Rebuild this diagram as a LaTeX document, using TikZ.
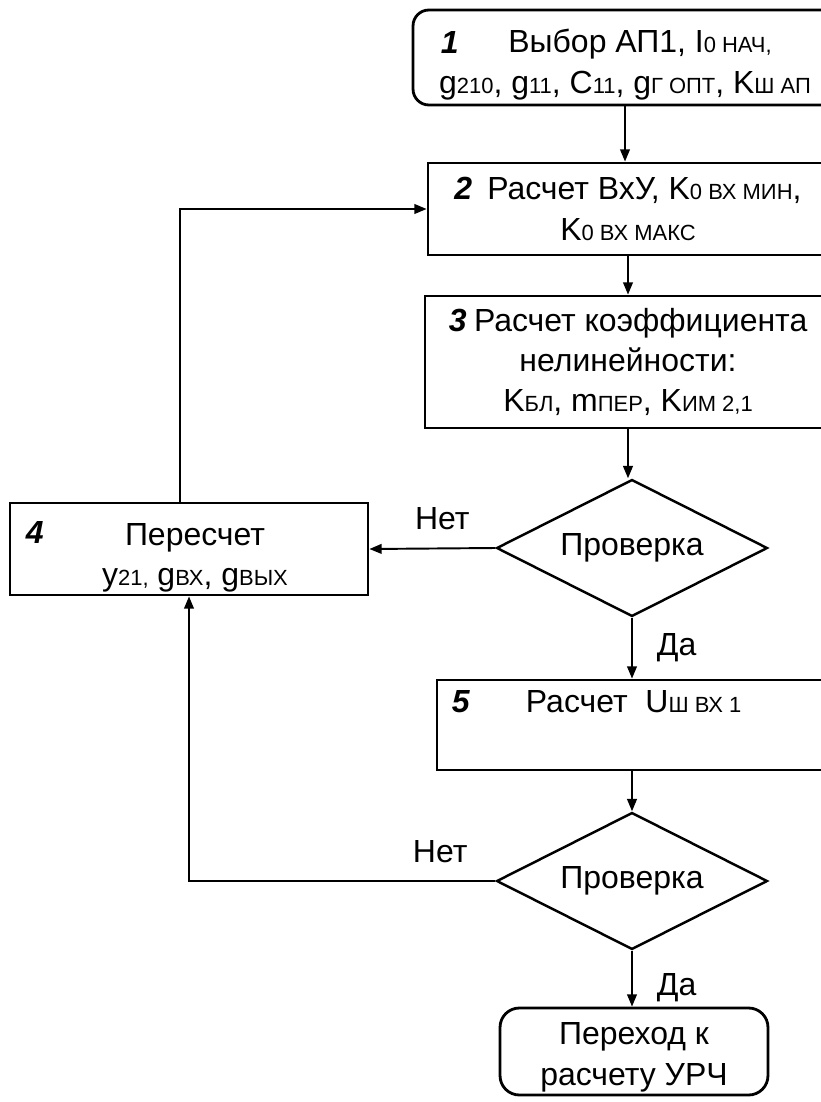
\documentclass[tikz,border=0pt]{standalone}
\usepackage{fontspec}
\setmainfont{Liberation Sans}
\usetikzlibrary{shapes.geometric, arrows.meta, positioning}
\newcommand{\sbs}[1]{{\fontsize{12.5}{14}\selectfont #1}}
\newcommand{\stepnum}[1]{\textbf{\textit{#1}}}

\begin{document}
\begin{tikzpicture}[x = 0.02cm, y = -0.02cm, font = \fontsize{18.2}{23}\selectfont]
\tikzstyle{BoxStyle} = [draw, line width = 1.6pt, inner sep = 0pt, align = center]
\tikzstyle{RoundStyle} = [BoxStyle, rounded corners = 9pt]
\tikzstyle{CheckStyle} = [draw, diamond, aspect = 2, line width = 1.4pt, minimum width = 5.42cm, minimum height = 2.74cm, inner sep = 0pt]
\tikzstyle{EdgeStyle} = [line width = 1.1pt, -{Triangle[length = 7pt, width = 5.5pt]}]
\tikzstyle{tagStyle} = [inner sep = 0pt]
\useasboundingbox (0,0) rectangle (821,1102);
\clip (0,0) rectangle (821,1102);
% blocks
\node[RoundStyle, minimum width = 8.48cm, minimum height = 1.9cm] (b1) at (625,57.5) {};
\node[tagStyle, align = center] (t1) at ([yshift = -0.14cm]b1.center) {\hspace*{0.6cm}Выбор АП1, I\sbs{0 НАЧ,}\\ g\sbs{210}, g\sbs{11}, C\sbs{11}, g\sbs{Г ОПТ}, K\sbs{Ш АП}};
\node[tagStyle, anchor = base west] (n1) at ([xshift = 0.58cm, yshift = -0.9cm]b1.north west) {\stepnum{1}};
\node[BoxStyle, minimum width = 8.0cm, minimum height = 1.84cm] (b2) at (628,209) {\stepnum{2}\hspace{0.3cm}Расчет ВхУ, K\sbs{0 ВХ МИН},\\ K\sbs{0 ВХ МАКС}};
\node[BoxStyle, minimum width = 8.12cm, minimum height = 2.64cm] (b3) at (628,362) {\stepnum{3}\hspace{0.15cm}Расчет коэффициента\\ нелинейности:\\ K\sbs{БЛ}, m\sbs{ПЕР}, K\sbs{ИМ 2,1}};
\node[CheckStyle] (d1) at (632,548) {Проверка};
\node[BoxStyle, minimum width = 7.16cm, minimum height = 1.84cm] (b4) at (189,549) {};
\node[tagStyle, align = center] (t4) at ([xshift = 0.12cm, yshift = -0.18cm]b4.center) {Пересчет\\ y\sbs{21,} g\sbs{ВХ}, g\sbs{ВЫХ}};
\node[tagStyle, anchor = base west] (n4) at ([xshift = 0.34cm, yshift = -0.84cm]b4.north west) {\stepnum{4}};
\node[BoxStyle, minimum width = 7.96cm, minimum height = 1.8cm] (b5) at (636,725) {};
\node[tagStyle, anchor = base west] (n5) at ([xshift = 0.32cm, yshift = -0.68cm]b5.north west) {\stepnum{5}};
\node[tagStyle, anchor = base west] (t5) at ([xshift = 1.8cm, yshift = -0.68cm]b5.north west) {Расчет\ \ U\sbs{Ш ВХ 1}};
\node[CheckStyle] (d2) at (632,881) {Проверка};
\node[RoundStyle, minimum width = 5.36cm, minimum height = 1.74cm, rounded corners = 11pt] (b6) at (634,1051.5) {};
\node[tagStyle, align = center] (t6) at ([yshift = -0.12cm]b6.center) {Переход к\\ расчету УРЧ};
% connectors
\draw[EdgeStyle] (b1.south) -- (b1.south |- b2.north);
\draw[EdgeStyle] (b2.south) -- (b2.south |- b3.north);
\draw[EdgeStyle] (b3.south) -- (b3.south |- d1.north);
\draw[EdgeStyle] (d1.west) -- node[tagStyle, above = 0.36cm, xshift = 0.2cm] {Нет} (b4.east);
\draw[EdgeStyle] (d1.south) -- node[tagStyle, right = 0.48cm] {Да} (d1.south |- b5.north);
\draw[EdgeStyle] ([xshift = -0.18cm]b4.north) |- (b2.west);
\draw[EdgeStyle] (d2.north |- b5.south) -- (d2.north);
\draw[EdgeStyle] (d2.west) -| node[tagStyle, pos = 0.09, above = 0.34cm] {Нет} (b4.south);
\draw[EdgeStyle] (d2.south) -- node[tagStyle, right = 0.48cm, yshift = -0.18cm] {Да} (d2.south |- b6.north);
\end{tikzpicture}
\end{document}
